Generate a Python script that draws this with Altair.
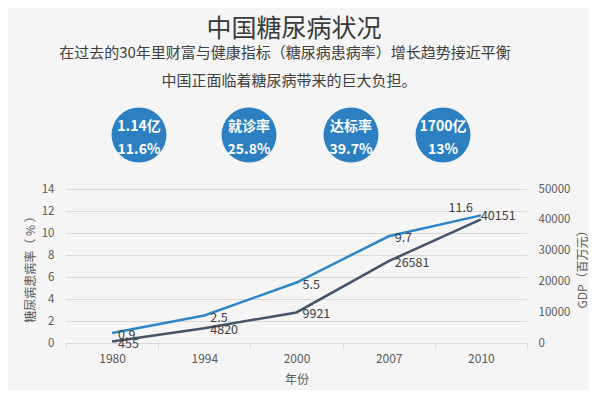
import altair as alt
import pandas as pd

# ---------------- data ----------------
years = ["1980", "1994", "2000", "2007", "2010"]
prevalence = [0.9, 2.5, 5.5, 9.7, 11.6]          # 糖尿病患病率 (%)
gdp = [455, 4820, 9921, 26581, 40151]            # GDP (百万元)

title_text = "中国糖尿病状况"
subtitle_lines = [
    "在过去的30年里财富与健康指标（糖尿病患病率）增长趋势接近平衡",
    "中国正面临着糖尿病带来的巨大负担。",
]
badge_top = ["1.14亿", "就诊率", "达标率", "1700亿"]
badge_bottom = ["11.6%", "25.8%", "39.7%", "13%"]

y_axis_title = "糖尿病患病率（ % ）"
y2_axis_title = "GDP（百万元）"
x_axis_title = "年份"

# ---------------- layout / style ----------------
FONT = "Noto Sans CJK SC"
W, H_TOP, H_PLOT = 461, 181, 154
BADGE_X = [73, 183, 285, 377]
BLUE = "#2e86c6"
DARK = "#44546a"
BADGE = "#2c7fc0"
GRID = "#d9d9d9"
TXT = "#595959"

# ---------------- top panel ----------------
def one_text(t, x, y, size, color="#404040", weight="normal"):
    return alt.Chart(pd.DataFrame({"t": [t]})).mark_text(
        font=FONT, fontSize=size, color=color, fontWeight=weight,
        align="center", baseline="middle"
    ).encode(text="t:N", x=alt.value(x), y=alt.value(y))

badges = pd.DataFrame({"top": badge_top, "bottom": badge_bottom, "cx": BADGE_X})
bx = alt.X("cx:Q", scale=alt.Scale(domain=[0, W], nice=False, zero=False), axis=None)

circles = alt.Chart(badges).mark_circle(size=3019, color=BADGE, opacity=1).encode(
    x=bx, y=alt.value(127)
)
badge_t1 = alt.Chart(badges).mark_text(
    font=FONT, fontSize=14, fontWeight="bold", color="white", baseline="middle"
).encode(x=bx, y=alt.value(119), text="top:N")
badge_t2 = alt.Chart(badges).mark_text(
    font=FONT, fontSize=14, fontWeight="bold", color="white", baseline="middle"
).encode(x=bx, y=alt.value(142), text="bottom:N")

top = alt.layer(
    one_text(title_text, 228, 21, 25, "#3a3a3a"),
    one_text(subtitle_lines[0], 219, 45, 15),
    one_text(subtitle_lines[1], 223, 73, 15),
    circles, badge_t1, badge_t2,
).properties(width=W, height=H_TOP)

# ---------------- line chart ----------------
df = pd.DataFrame({"year": years, "prev": prevalence, "gdp": gdp})

x = alt.X(
    "year:N", sort=None, bandPosition=0.5,
    scale=alt.Scale(type="band", paddingInner=0, paddingOuter=0),
    axis=alt.Axis(
        title=x_axis_title, labelAngle=0, tickBand="extent",
        domainColor=GRID, tickColor=GRID, tickSize=5,
        labelColor=TXT, labelFontSize=12, labelPadding=5, labelFont=FONT,
        titleColor=TXT, titleFontSize=12, titleFontWeight="normal", titlePadding=10,
        titleFont=FONT,
    ),
)

y_left = alt.Y(
    "prev:Q",
    scale=alt.Scale(domain=[0, 14], nice=False),
    axis=alt.Axis(
        values=[0, 2, 4, 6, 8, 10, 12, 14], format="d", title=y_axis_title,
        grid=True, gridColor=GRID, domain=False, ticks=False,
        labelColor=TXT, labelFontSize=11.5, labelPadding=12, labelFont=FONT,
        titleColor=TXT, titleFontSize=12, titleFontWeight="normal", titlePadding=4,
        titleFont=FONT,
    ),
)

y_right = alt.Y(
    "gdp:Q",
    scale=alt.Scale(domain=[0, 50000], nice=False),
    axis=alt.Axis(
        orient="right", values=[0, 10000, 20000, 30000, 40000, 50000], format="d",
        title=y2_axis_title, titleAngle=270, grid=False, domain=False, ticks=False,
        labelColor=TXT, labelFontSize=11.5, labelPadding=11, labelFont=FONT,
        titleColor=TXT, titleFontSize=12, titleFontWeight="normal", titlePadding=20,
        titleFont=FONT,
    ),
)

base = alt.Chart(df)
lbl = dict(font=FONT, fontSize=12.5, color="#404040", baseline="middle")

blue_line = base.mark_line(color=BLUE, strokeWidth=2.5).encode(x=x, y=y_left)
blue_lbl = base.transform_filter(alt.datum.year != "2010").mark_text(
    align="left", dx=6, dy=2, **lbl).encode(x=x, y=y_left, text="prev:Q")
blue_lbl_last = base.transform_filter(alt.datum.year == "2010").mark_text(
    align="right", dx=-8, dy=-7, **lbl).encode(x=x, y=y_left, text="prev:Q")

dark_line = base.mark_line(color=DARK, strokeWidth=2.5).encode(x=x, y=y_right)
dark_lbl = base.transform_filter(alt.datum.year != "2010").mark_text(
    align="left", dx=6, dy=2, **lbl).encode(x=x, y=y_right, text="gdp:Q")
dark_lbl_last = base.transform_filter(alt.datum.year == "2010").mark_text(
    align="left", dx=0, dy=-3, **lbl).encode(x=x, y=y_right, text="gdp:Q")

bottom = alt.layer(
    alt.layer(blue_line, blue_lbl, blue_lbl_last),
    alt.layer(dark_line, dark_lbl, dark_lbl_last),
).resolve_scale(y="independent").properties(width=W, height=H_PLOT)

chart = alt.vconcat(top, bottom, spacing=0, bounds="flush").properties(
    padding={"left": 16, "top": 0, "right": 0, "bottom": 5}
).configure(background="#f5f5f5", font=FONT).configure_view(strokeWidth=0)

chart.save("out.html", embed_options={"renderer": "svg", "actions": False})
